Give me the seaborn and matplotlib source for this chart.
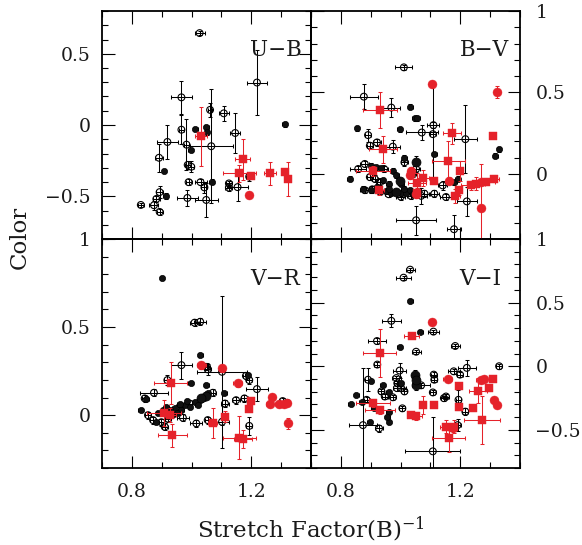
import matplotlib
matplotlib.use("Agg")
import matplotlib.pyplot as plt
import pandas as pd
import seaborn as sns
from matplotlib.ticker import MultipleLocator, FuncFormatter

# Each row: (stretch^-1, colour, x error, y error)
UB_open = [
    (1.027, 0.645, 0.017, 0.015), (1.219, 0.298, 0.032, 0.230), (0.966, 0.194, 0.035, 0.116),
    (1.062, 0.106, 0.008, 0.050), (1.108, 0.082, 0.016, 0.052), (0.966, -0.033, 0.008, 0.100),
    (0.983, -0.138, 0.008, 0.180), (1.146, -0.056, 0.016, 0.139), (0.919, -0.119, 0.036, 0.120),
    (1.066, -0.149, 0.072, 0.400), (0.891, -0.230, 0.012, 0.100), (0.987, -0.280, 0.010, 0.030),
    (0.999, -0.293, 0.010, 0.040), (1.193, -0.362, 0.010, 0.030), (0.990, -0.401, 0.010, 0.020),
    (1.030, -0.401, 0.020, 0.020), (1.043, -0.438, 0.010, 0.040), (1.125, -0.410, 0.010, 0.020),
    (1.125, -0.440, 0.012, 0.020), (1.154, -0.436, 0.036, 0.100), (0.986, -0.512, 0.035, 0.055),
    (1.049, -0.526, 0.039, 0.120), (0.893, -0.471, 0.012, 0.040), (0.882, -0.519, 0.012, 0.020),
    (0.874, -0.563, 0.015, 0.030), (0.830, -0.561, 0.010, 0.015), (0.893, -0.610, 0.010, 0.020),
]
UB_filled = [
    (1.312, 0.004, 0.008, 0.020), (1.013, -0.026, 0.008, 0.010), (1.049, -0.017, 0.008, 0.020),
    (1.052, -0.049, 0.008, 0.020), (0.997, -0.177, 0.008, 0.010), (0.908, -0.320, 0.008, 0.010),
    (1.068, -0.397, 0.008, 0.020), (0.913, -0.496, 0.008, 0.020),
]
UB_filled_big = []
UB_red_sq = [
    (1.032, -0.080, 0.020, 0.208), (1.171, -0.242, 0.025, 0.145), (1.160, -0.339, 0.056, 0.060),
    (1.199, -0.355, 0.010, 0.020), (1.263, -0.339, 0.020, 0.080), (1.312, -0.332, 0.010, 0.020),
    (1.323, -0.381, 0.010, 0.120),
]
UB_red_dot = [(1.193, -0.489, 0.005, 0.010)]

BV_open = [
    (1.011, 0.654, 0.028, 0.015), (0.877, 0.474, 0.048, 0.076), (0.969, 0.407, 0.030, 0.060),
    (1.110, 0.299, 0.020, 0.020), (1.071, 0.254, 0.054, 0.045), (1.108, 0.244, 0.010, 0.300),
    (1.217, 0.213, 0.039, 0.210), (0.891, 0.238, 0.010, 0.040), (0.921, 0.193, 0.015, 0.020),
    (0.974, 0.167, 0.025, 0.040), (0.897, 0.173, 0.010, 0.020), (0.858, 0.030, 0.027, 0.020),
    (0.880, 0.061, 0.015, 0.020), (1.013, 0.071, 0.012, 0.020), (1.052, 0.030, 0.012, 0.020),
    (1.041, 0.000, 0.012, 0.020), (0.897, -0.020, 0.010, 0.020), (0.913, -0.030, 0.010, 0.020),
    (0.930, -0.050, 0.010, 0.020), (1.080, -0.122, 0.015, 0.020), (1.113, -0.122, 0.015, 0.020),
    (1.152, -0.142, 0.020, 0.020), (1.141, -0.071, 0.015, 0.030), (1.052, -0.285, 0.067, 0.090),
    (1.179, -0.340, 0.022, 0.090), (1.222, -0.169, 0.033, 0.090), (1.069, -0.135, 0.020, 0.050),
    (0.880, -0.100, 0.015, 0.020), (0.905, -0.095, 0.010, 0.020), (1.001, -0.140, 0.015, 0.020),
    (0.945, 0.030, 0.012, 0.020), (0.960, -0.125, 0.012, 0.020), (1.035, -0.135, 0.012, 0.020),
]
BV_filled = [
    (1.032, 0.413, 0.008, 0.015), (1.047, 0.341, 0.008, 0.015), (1.056, 0.341, 0.008, 0.015),
    (0.997, 0.274, 0.008, 0.015), (0.854, 0.280, 0.008, 0.015), (1.113, 0.122, 0.008, 0.015),
    (1.330, 0.152, 0.008, 0.015), (1.317, 0.110, 0.008, 0.015), (1.013, 0.098, 0.008, 0.015),
    (0.830, -0.030, 0.008, 0.015), (0.902, 0.051, 0.008, 0.015), (0.919, 0.041, 0.008, 0.015),
    (0.935, 0.035, 0.008, 0.015), (0.974, 0.020, 0.008, 0.015), (0.986, -0.010, 0.008, 0.015),
    (0.997, -0.041, 0.008, 0.015), (1.002, -0.061, 0.008, 0.015), (0.902, -0.100, 0.008, 0.015),
    (0.930, -0.110, 0.008, 0.015), (0.952, -0.105, 0.008, 0.015), (0.969, -0.115, 0.008, 0.015),
    (0.986, -0.110, 0.008, 0.015), (1.002, -0.120, 0.008, 0.015), (1.019, -0.115, 0.008, 0.015),
    (1.180, -0.051, 0.008, 0.015), (1.191, -0.030, 0.008, 0.015), (0.960, -0.060, 0.008, 0.015),
    (0.940, -0.040, 0.008, 0.015), (0.960, -0.090, 0.008, 0.015), (1.010, -0.090, 0.008, 0.015),
    (1.030, -0.100, 0.008, 0.015), (0.920, -0.080, 0.008, 0.015), (0.875, -0.090, 0.008, 0.015),
    (1.040, -0.125, 0.008, 0.015),
]
BV_filled_big = [(1.052, 0.071, 0.010, 0.040), (0.997, -0.045, 0.010, 0.020), (0.985, -0.110, 0.010, 0.020)]
BV_red_sq = [
    (0.930, 0.390, 0.057, 0.110), (1.172, 0.248, 0.030, 0.065), (1.308, 0.234, 0.005, 0.010),
    (0.941, 0.152, 0.047, 0.083), (1.160, 0.081, 0.056, 0.120), (0.908, 0.016, 0.057, 0.030),
    (1.199, 0.016, 0.010, 0.060), (1.074, -0.026, 0.020, 0.050), (1.056, -0.057, 0.030, 0.060),
    (1.113, -0.045, 0.010, 0.020), (1.054, -0.118, 0.010, 0.030), (1.183, -0.136, 0.015, 0.040),
    (1.197, -0.102, 0.010, 0.030), (0.928, -0.102, 0.015, 0.030), (1.236, -0.071, 0.035, 0.030),
    (1.252, -0.061, 0.030, 0.040), (1.286, -0.047, 0.030, 0.020), (1.313, -0.030, 0.015, 0.020),
]
BV_red_dot = [
    (1.106, 0.553, 0.008, 0.020), (1.322, 0.502, 0.010, 0.035), (1.036, 0.020, 0.008, 0.020),
    (1.033, -0.010, 0.008, 0.020), (1.161, -0.041, 0.008, 0.020), (1.050, -0.122, 0.008, 0.020),
    (1.271, -0.209, 0.008, 0.270), (1.269, -0.051, 0.008, 0.020),
]

VR_open = [
    (1.010, 0.525, 0.015, 0.020), (1.029, 0.530, 0.020, 0.020), (0.966, 0.284, 0.035, 0.076),
    (1.054, 0.260, 0.010, 0.030), (1.102, 0.246, 0.083, 0.430), (1.182, 0.223, 0.010, 0.020),
    (1.193, 0.199, 0.010, 0.020), (1.219, 0.148, 0.037, 0.070), (0.919, 0.199, 0.010, 0.030),
    (0.874, 0.127, 0.047, 0.020), (1.071, 0.127, 0.010, 0.020), (1.112, 0.066, 0.012, 0.020),
    (1.177, 0.095, 0.012, 0.020), (1.149, 0.085, 0.012, 0.020), (1.193, -0.061, 0.010, 0.050),
    (1.305, 0.080, 0.010, 0.015), (1.320, 0.070, 0.010, 0.015), (0.971, -0.015, 0.020, 0.020),
    (1.016, -0.047, 0.020, 0.020), (1.102, -0.038, 0.025, 0.020), (0.843, 0.095, 0.010, 0.020),
    (0.854, 0.000, 0.010, 0.020), (0.871, -0.028, 0.010, 0.020), (1.054, -0.028, 0.010, 0.020),
    (1.051, 0.274, 0.010, 0.020), (0.899, -0.040, 0.010, 0.020), (0.921, -0.020, 0.010, 0.020),
    (0.910, -0.066, 0.010, 0.020), (0.960, 0.047, 0.010, 0.020), (0.993, 0.066, 0.010, 0.020),
]
VR_filled = [
    (0.901, 0.780, 0.008, 0.010), (1.029, 0.341, 0.008, 0.010), (0.997, 0.184, 0.008, 0.010),
    (1.049, 0.171, 0.008, 0.010), (0.849, 0.089, 0.008, 0.010), (0.830, 0.028, 0.008, 0.010),
    (1.054, 0.123, 0.008, 0.010), (1.043, 0.104, 0.008, 0.010), (1.027, 0.085, 0.008, 0.010),
    (1.010, 0.076, 0.008, 0.010), (0.977, 0.057, 0.008, 0.010), (0.943, 0.038, 0.008, 0.010),
    (0.927, 0.028, 0.008, 0.010), (0.904, 0.028, 0.008, 0.010), (0.888, 0.010, 0.008, 0.010),
    (1.110, 0.123, 0.008, 0.010), (0.882, -0.040, 0.008, 0.010), (1.188, 0.227, 0.008, 0.010),
    (1.040, 0.095, 0.008, 0.010), (1.020, 0.060, 0.008, 0.010), (0.995, 0.045, 0.008, 0.010),
    (0.965, 0.030, 0.008, 0.010), (0.950, 0.010, 0.008, 0.010), (0.935, 0.000, 0.008, 0.010),
    (0.985, 0.080, 0.008, 0.010), (0.960, 0.065, 0.008, 0.010), (0.915, 0.045, 0.008, 0.010),
]
VR_filled_big = [(1.049, 0.110, 0.010, 0.020), (1.030, 0.095, 0.010, 0.020)]
VR_red_sq = [
    (0.930, 0.184, 0.055, 0.120), (0.908, 0.013, 0.057, 0.075), (0.927, 0.000, 0.020, 0.040),
    (0.936, -0.114, 0.050, 0.065), (1.071, -0.047, 0.015, 0.085), (1.112, -0.009, 0.010, 0.030),
    (1.160, -0.127, 0.055, 0.120), (1.171, -0.136, 0.030, 0.050), (1.199, 0.082, 0.008, 0.015),
    (1.193, 0.034, 0.008, 0.015),
]
VR_red_dot = [
    (1.032, 0.284, 0.015, 0.020), (1.102, 0.265, 0.008, 0.020), (1.154, 0.180, 0.015, 0.020),
    (1.269, 0.104, 0.008, 0.015), (1.263, 0.063, 0.015, 0.015), (1.293, 0.063, 0.008, 0.015),
    (1.310, 0.066, 0.008, 0.015), (1.318, 0.070, 0.008, 0.015), (1.324, -0.047, 0.010, 0.030),
]

VI_open = [
    (1.032, 0.759, 0.015, 0.015), (1.010, 0.696, 0.025, 0.015), (0.969, 0.357, 0.032, 0.050),
    (1.110, 0.272, 0.018, 0.015), (0.921, 0.198, 0.030, 0.020), (1.052, 0.114, 0.015, 0.015),
    (1.183, 0.159, 0.015, 0.015), (0.922, 0.013, 0.010, 0.020), (0.997, -0.034, 0.022, 0.060),
    (1.222, -0.013, 0.030, 0.060), (1.330, 0.000, 0.010, 0.020), (1.178, -0.040, 0.020, 0.020),
    (1.199, -0.066, 0.010, 0.020), (1.111, -0.066, 0.010, 0.020), (1.113, -0.106, 0.010, 0.020),
    (1.108, -0.206, 0.010, 0.020), (1.194, -0.264, 0.010, 0.080), (1.217, -0.357, 0.010, 0.030),
    (1.108, -0.669, 0.092, 0.270), (0.874, -0.463, 0.048, 0.450), (0.928, -0.489, 0.012, 0.030),
    (0.886, -0.264, 0.010, 0.020), (0.891, -0.106, 0.010, 0.090), (0.936, -0.198, 0.010, 0.020),
    (0.947, -0.238, 0.010, 0.020), (0.974, -0.244, 0.010, 0.020), (0.988, -0.172, 0.015, 0.020),
    (1.002, -0.172, 0.015, 0.020), (1.013, -0.198, 0.010, 0.020), (0.986, -0.093, 0.015, 0.020),
    (0.989, -0.133, 0.010, 0.020), (1.006, -0.331, 0.010, 0.020), (1.152, -0.238, 0.010, 0.020),
    (1.145, -0.251, 0.010, 0.020), (1.191, -0.463, 0.010, 0.050), (1.069, -0.150, 0.030, 0.020),
]
VI_filled = [
    (1.032, 0.516, 0.008, 0.010), (1.066, 0.272, 0.008, 0.010), (0.997, 0.153, 0.008, 0.010),
    (0.833, -0.299, 0.008, 0.010), (0.852, -0.225, 0.008, 0.010), (0.897, -0.437, 0.008, 0.010),
    (0.961, -0.437, 0.008, 0.010), (0.960, -0.360, 0.008, 0.010), (0.955, -0.400, 0.008, 0.010),
    (0.900, -0.120, 0.008, 0.010), (0.940, -0.150, 0.008, 0.010), (0.960, -0.200, 0.008, 0.010),
    (1.000, -0.130, 0.008, 0.010), (0.870, -0.280, 0.008, 0.010), (0.910, -0.330, 0.008, 0.010),
]
VI_filled_big = [(1.047, -0.066, 0.010, 0.040), (1.052, -0.146, 0.010, 0.040), (1.050, -0.105, 0.010, 0.030)]
VI_red_sq = [
    (1.038, 0.238, 0.025, 0.020), (0.930, 0.106, 0.056, 0.190), (1.308, -0.100, 0.008, 0.020),
    (1.197, -0.159, 0.008, 0.020), (1.297, -0.172, 0.008, 0.020), (1.258, -0.193, 0.030, 0.100),
    (1.274, -0.423, 0.060, 0.190), (1.161, -0.561, 0.056, 0.110), (1.152, -0.476, 0.020, 0.050),
    (1.180, -0.476, 0.010, 0.050), (1.174, -0.489, 0.010, 0.030), (1.197, -0.317, 0.010, 0.020),
    (1.241, -0.331, 0.010, 0.020), (1.113, -0.304, 0.008, 0.020), (1.074, -0.304, 0.010, 0.070),
    (0.908, -0.291, 0.057, 0.030), (0.932, -0.344, 0.050, 0.030), (1.036, -0.383, 0.015, 0.020),
    (1.052, -0.391, 0.020, 0.030),
]
VI_red_dot = [
    (1.106, 0.344, 0.008, 0.020), (1.158, -0.100, 0.015, 0.020), (1.269, -0.106, 0.015, 0.020),
    (1.280, -0.100, 0.008, 0.020), (1.313, -0.264, 0.008, 0.020), (1.324, -0.304, 0.008, 0.020),
]

panel_labels = ["U\u2212B", "B\u2212V", "V\u2212R", "V\u2212I"]
x_label = r"Stretch Factor(B)$^{-1}$"
y_label = "Color"

# ---------------------------------------------------------------- style
sns.set_theme(style="white")
plt.rcParams["font.family"] = ["DejaVu Serif", "DejaVu Sans"]
plt.rcParams["mathtext.fontset"] = "dejavuserif"

RED = "#e5222a"
COLS = ["x", "y", "xe", "ye"]

fig = plt.figure(figsize=(5.82, 5.45), dpi=100)
fig.patch.set_facecolor("white")

W, H = 582.0, 545.0
col_left = [102 / W, 311 / W]
col_w = 209 / W
row_bottom = [(H - 239) / H, (H - 468) / H]
row_h = [228 / H, 229 / H]
ylims = [(-0.8, 0.8), (-0.4, 1.0), (-0.3, 1.0), (-0.8, 1.0)]

groups = [
    (UB_open, UB_filled, UB_filled_big, UB_red_sq, UB_red_dot),
    (BV_open, BV_filled, BV_filled_big, BV_red_sq, BV_red_dot),
    (VR_open, VR_filled, VR_filled_big, VR_red_sq, VR_red_dot),
    (VI_open, VI_filled, VI_filled_big, VI_red_sq, VI_red_dot),
]

fmt = FuncFormatter(lambda v, p: f"{v:g}".replace("-", "\u2212"))


def draw_group(ax, rows, color, marker, size, face, lw_edge, z):
    if not rows:
        return
    df = pd.DataFrame(rows, columns=COLS)
    ax.errorbar(df["x"], df["y"], xerr=df["xe"], yerr=df["ye"], fmt="none",
                ecolor=color, elinewidth=0.75, capsize=1.6, capthick=0.75, zorder=z)
    sns.scatterplot(data=df, x="x", y="y", ax=ax, marker=marker, s=size,
                    facecolors=face, edgecolors=color, linewidths=lw_edge,
                    zorder=z + 0.5, legend=False)


for i, (open_, filled, big, red_sq, red_dot) in enumerate(groups):
    r, c = divmod(i, 2)
    ax = fig.add_axes([col_left[c], row_bottom[r], col_w, row_h[r]])
    ax.set_facecolor("none")

    draw_group(ax, open_, "black", "o", 24, "none", 0.8, 2)
    draw_group(ax, filled, "black", "o", 20, "#111111", 0.5, 3)
    draw_group(ax, big, "black", "o", 42, "#111111", 0.5, 3)
    draw_group(ax, red_sq, RED, "s", 32, RED, 0.3, 5)
    draw_group(ax, red_dot, RED, "o", 42, RED, 0.3, 5)

    ax.set_xlim(0.7, 1.4)
    ax.set_ylim(*ylims[i])
    ax.set_xlabel("")
    ax.set_ylabel("")

    ax.xaxis.set_major_locator(MultipleLocator(0.4))
    ax.xaxis.set_minor_locator(MultipleLocator(0.1))
    ax.yaxis.set_major_locator(MultipleLocator(0.5))
    ax.yaxis.set_minor_locator(MultipleLocator(0.1))
    ax.xaxis.set_major_formatter(fmt)
    ax.yaxis.set_major_formatter(fmt)

    ax.tick_params(which="both", direction="in", top=True, bottom=True,
                   left=True, right=True, colors="black", width=0.8)
    ax.tick_params(which="major", length=9)
    ax.tick_params(which="minor", length=4.5)
    ax.tick_params(axis="both", labelsize=13.5, labelcolor="#1a1a1a")
    ax.tick_params(axis="x", pad=11, labelbottom=(r == 1), labeltop=False)
    if c == 0:
        ax.tick_params(axis="y", pad=8, labelleft=True, labelright=False)
    else:
        ax.tick_params(axis="y", pad=11, labelleft=False, labelright=True)

    for sp in ax.spines.values():
        sp.set_visible(True)
        sp.set_color("black")
        sp.set_linewidth(1.3)

    ax.text(0.71, 0.83 if r == 0 else 0.825, panel_labels[i], transform=ax.transAxes,
            ha="left", va="center", fontsize=15.5, color="#1a1a1a")

fig.text(311 / W, 1 - 529 / H, x_label, ha="center", va="center",
         fontsize=16.5, color="#1a1a1a")
fig.text(20 / W, 1 - 237 / H, y_label, ha="center", va="center",
         rotation=90, fontsize=16.5, color="#1a1a1a")

fig.savefig("out.png", dpi=100, facecolor="white")
